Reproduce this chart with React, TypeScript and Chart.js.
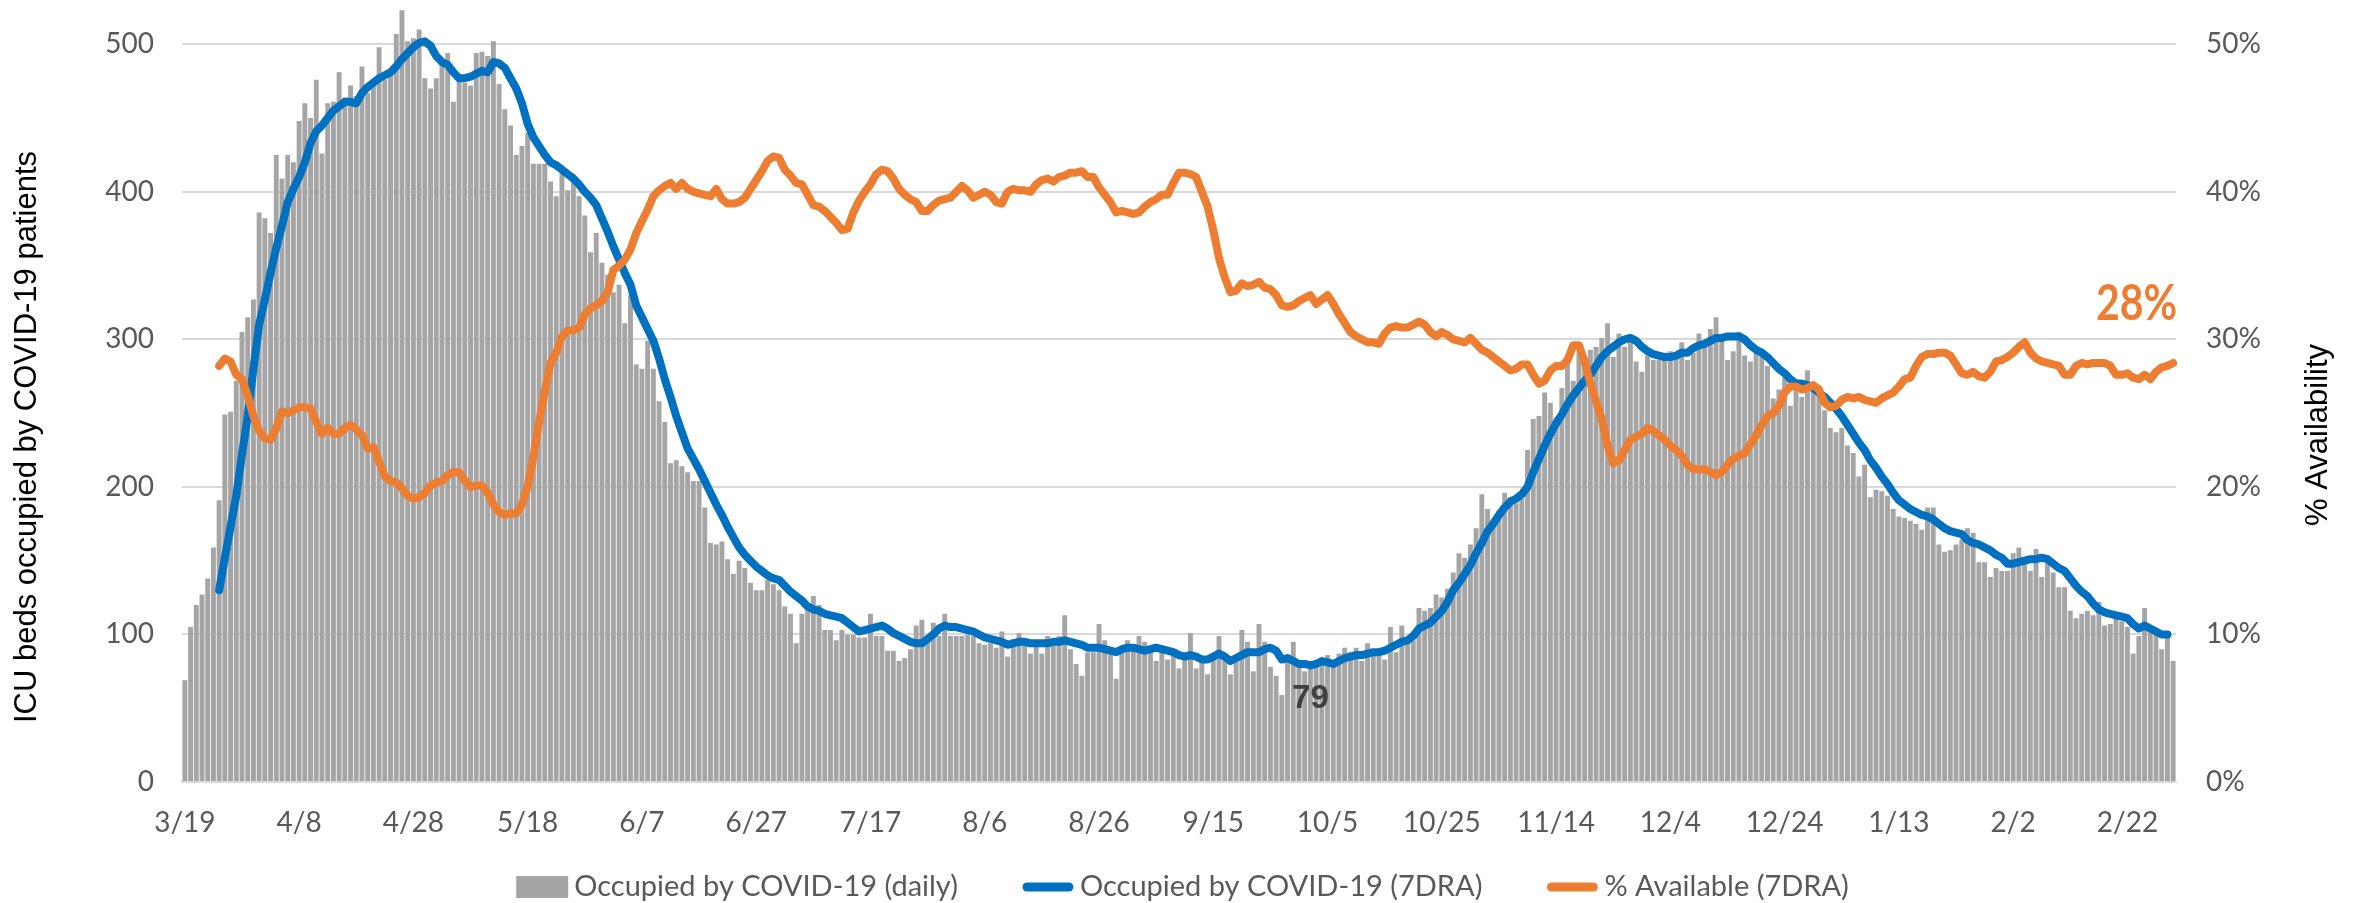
import React, { useEffect, useRef } from "react";
import { Chart, registerables } from "chart.js";

Chart.register(...registerables);

// ---------- DATA ----------
// month, first day, last day (3/19/2020 .. 3/2/2021)
const MONTH_SPANS: [number, number, number][] = [
  [3, 19, 31], [4, 1, 30], [5, 1, 31], [6, 1, 30], [7, 1, 31], [8, 1, 31],
  [9, 1, 30], [10, 1, 31], [11, 1, 30], [12, 1, 31], [1, 1, 31], [2, 1, 28], [3, 1, 2],
];
const CATEGORIES: string[] = MONTH_SPANS.flatMap(([m, a, b]) =>
  Array.from({ length: b - a + 1 }, (_, i) => `${m}/${a + i}`)
);

const TICK_LABELS = ["3/19", "4/8", "4/28", "5/18", "6/7", "6/27", "7/17", "8/6", "8/26", "9/15",
  "10/5", "10/25", "11/14", "12/4", "12/24", "1/13", "2/2", "2/22"];
const LEFT_TICKS = [0, 100, 200, 300, 400, 500];
const RIGHT_TICKS = [0, 10, 20, 30, 40, 50];

const DAILY: number[] = [
  69, 105, 120, 127, 138, 159, 191, 249, 251, 272,
  305, 315, 327, 386, 382, 372, 425, 409, 425, 420,
  448, 460, 450, 476, 426, 460, 461, 481, 464, 472,
  465, 485, 467, 474, 498, 476, 481, 507, 523, 502,
  504, 510, 477, 470, 477, 486, 494, 461, 476, 474,
  472, 494, 495, 492, 502, 473, 456, 445, 425, 431,
  440, 419, 419, 419, 407, 397, 414, 401, 407, 397,
  384, 359, 372, 352, 344, 332, 337, 311, 330, 283,
  280, 299, 280, 258, 244, 216, 218, 214, 210, 204,
  204, 186, 162, 161, 163, 151, 141, 150, 145, 135,
  130, 130, 137, 134, 130, 119, 114, 94, 114, 119,
  126, 120, 103, 103, 96, 103, 100, 100, 98, 98,
  114, 99, 99, 89, 89, 82, 84, 90, 106, 110,
  99, 108, 99, 114, 99, 99, 99, 100, 99, 94,
  93, 94, 91, 102, 85, 97, 101, 97, 87, 96,
  87, 99, 96, 99, 113, 90, 80, 72, 88, 88,
  107, 96, 90, 70, 92, 96, 92, 99, 95, 90,
  82, 88, 83, 90, 77, 87, 101, 77, 81, 73,
  87, 99, 87, 73, 83, 103, 95, 75, 107, 95,
  78, 72, 59, 85, 95, 82, 75, 79, 79, 82,
  86, 82, 87, 91, 88, 91, 82, 94, 88, 88,
  83, 105, 88, 106, 96, 96, 118, 116, 118, 127,
  125, 131, 142, 155, 152, 161, 172, 195, 185, 178,
  184, 196, 193, 189, 192, 225, 246, 248, 264, 257,
  247, 267, 286, 272, 291, 288, 293, 295, 301, 311,
  288, 304, 295, 299, 285, 278, 289, 286, 286, 291,
  292, 291, 298, 286, 291, 304, 298, 307, 315, 302,
  286, 292, 305, 289, 285, 292, 289, 282, 260, 266,
  274, 255, 266, 261, 279, 267, 262, 252, 240, 237,
  240, 228, 223, 207, 215, 193, 198, 197, 194, 185,
  180, 179, 177, 175, 171, 186, 186, 161, 156, 157,
  161, 164, 172, 169, 149, 149, 139, 145, 143, 143,
  155, 159, 152, 143, 158, 139, 150, 142, 132, 132,
  116, 111, 114, 116, 113, 122, 106, 107, 111, 109,
  105, 87, 99, 118, 102, 100, 90, 99, 82,
];

const AVG7: (number | null)[] = [
  null, null, null, null, null, null, 130, 152, 173, 194,
  222, 248, 280, 310, 327, 345, 362, 377, 393, 402,
  410, 420, 433, 441, 445, 450, 455, 458, 461, 461,
  460, 467, 471, 474, 477, 479, 481, 485, 490, 494,
  498, 501, 502, 499, 492, 488, 486, 481, 477, 477,
  478, 480, 482, 481, 488, 487, 484, 477, 470, 460,
  446, 437, 431, 425, 420, 418, 415, 412, 409, 405,
  400, 396, 391, 382, 373, 363, 354, 345, 337, 323,
  315, 307, 299, 287, 273, 261, 248, 237, 226, 219,
  212, 204, 196, 188, 181, 173, 166, 159, 154, 150,
  146, 143, 140, 138, 137, 133, 129, 126, 123, 119,
  117, 116, 114, 113, 112, 111, 108, 105, 102, 103,
  104, 105, 106, 104, 101, 99, 97, 95, 94, 94,
  97, 100, 104, 106, 105, 105, 104, 103, 102, 100,
  98, 97, 96, 95, 93, 94, 95, 95, 94, 94,
  94, 94, 95, 95, 96, 95, 94, 93, 91, 91,
  91, 90, 89, 88, 90, 91, 91, 90, 89, 90,
  91, 90, 89, 88, 86, 85, 86, 85, 83, 83,
  85, 87, 85, 82, 84, 86, 88, 88, 88, 90,
  91, 89, 83, 84, 82, 80, 80, 79, 80, 82,
  81, 80, 82, 84, 85, 86, 86, 87, 88, 88,
  89, 91, 93, 95, 96, 99, 104, 106, 108, 112,
  116, 122, 130, 135, 141, 147, 155, 162, 170, 175,
  181, 186, 190, 192, 195, 200, 210, 219, 228, 236,
  243, 249, 256, 262, 267, 272, 276, 282, 288, 292,
  295, 298, 300, 301, 299, 295, 292, 290, 289, 288,
  288, 289, 291, 291, 294, 296, 297, 299, 301, 301,
  302, 302, 302, 300, 296, 293, 291, 288, 284, 280,
  277, 273, 270, 270, 269, 267, 264, 261, 257, 253,
  248, 242, 236, 230, 225, 218, 213, 207, 202, 196,
  191, 188, 185, 183, 181, 180, 178, 175, 172, 170,
  169, 168, 164, 162, 161, 159, 157, 154, 152, 148,
  148, 149, 150, 151, 151, 152, 151, 148, 145, 143,
  138, 133, 129, 126, 121, 117, 115, 114, 113, 112,
  111, 107, 104, 106, 104, 102, 100, 100, null,
];

const AVAIL: (number | null)[] = [
  null, null, null, null, null, null, 28.2, 28.7, 28.5, 27.6,
  27.3, 26.2, 24.8, 23.8, 23.3, 23.2, 24.0, 25.1, 25.0, 25.2,
  25.4, 25.4, 25.3, 24.4, 23.6, 24.0, 23.6, 23.6, 24.0, 24.2,
  23.9, 23.5, 22.6, 22.7, 21.7, 20.7, 20.4, 20.3, 19.9, 19.4,
  19.2, 19.3, 19.6, 20.1, 20.3, 20.4, 20.8, 21.0, 21.0, 20.4,
  20.0, 20.1, 20.1, 19.6, 18.8, 18.3, 18.1, 18.2, 18.2, 18.8,
  20.0, 22.0, 24.4, 26.5, 28.4, 29.1, 30.2, 30.6, 30.6, 30.8,
  31.7, 32.1, 32.3, 32.6, 33.2, 34.7, 35.0, 35.4, 36.1, 37.2,
  38.0, 38.8, 39.7, 40.1, 40.4, 40.6, 40.2, 40.6, 40.2, 40.0,
  39.9, 39.8, 39.7, 40.2, 39.5, 39.2, 39.2, 39.3, 39.6, 40.2,
  40.8, 41.4, 42.1, 42.4, 42.3, 41.5, 41.1, 40.6, 40.5, 39.8,
  39.1, 39.0, 38.7, 38.3, 37.9, 37.4, 37.5, 38.6, 39.4, 40.0,
  40.5, 41.2, 41.5, 41.4, 40.9, 40.2, 39.8, 39.5, 39.3, 38.7,
  38.7, 39.1, 39.4, 39.5, 39.6, 40.0, 40.4, 40.1, 39.6, 39.8,
  40.0, 39.8, 39.3, 39.2, 40.0, 40.2, 40.1, 40.1, 40.0, 40.5,
  40.8, 40.9, 40.7, 41.0, 41.1, 41.3, 41.3, 41.4, 41.0, 41.0,
  40.3, 39.8, 39.3, 38.6, 38.7, 38.6, 38.5, 38.6, 39.0, 39.3,
  39.5, 39.8, 39.8, 40.6, 41.3, 41.3, 41.2, 41.0, 40.0, 39.0,
  37.4, 35.5, 34.2, 33.2, 33.3, 33.8, 33.6, 33.7, 33.9, 33.5,
  33.4, 33.0, 32.3, 32.2, 32.3, 32.6, 32.8, 33.0, 32.4, 32.7,
  33.0, 32.4, 31.7, 31.1, 30.5, 30.2, 30.0, 29.8, 29.8, 29.7,
  30.4, 30.8, 30.9, 30.8, 30.8, 31.0, 31.2, 31.0, 30.5, 30.2,
  30.5, 30.3, 30.0, 29.9, 29.8, 30.1, 29.7, 29.3, 29.1, 28.8,
  28.5, 28.2, 27.9, 28.0, 28.3, 28.3, 27.6, 27.0, 27.2, 27.9,
  28.2, 28.2, 28.6, 29.6, 29.6, 28.5, 27.0, 25.8, 24.6, 22.8,
  21.6, 21.8, 22.5, 23.2, 23.4, 23.6, 24.0, 23.8, 23.5, 23.2,
  22.8, 22.5, 22.1, 21.5, 21.2, 21.2, 21.2, 21.0, 20.8, 21.0,
  21.5, 21.9, 22.1, 22.3, 22.9, 23.5, 24.2, 24.8, 25.0, 25.5,
  26.4, 26.8, 26.8, 26.6, 26.7, 26.9, 26.6, 25.7, 25.4, 25.5,
  25.9, 26.1, 26.0, 26.1, 25.9, 25.8, 25.7, 26.0, 26.2, 26.4,
  26.8, 27.3, 27.4, 28.2, 28.8, 29.0, 29.0, 29.1, 29.1, 28.9,
  28.3, 27.7, 27.6, 27.8, 27.5, 27.4, 27.8, 28.5, 28.6, 28.8,
  29.1, 29.5, 29.8, 29.1, 28.7, 28.5, 28.4, 28.3, 28.2, 27.6,
  27.6, 28.2, 28.4, 28.3, 28.4, 28.4, 28.4, 28.2, 27.6, 27.6,
  27.7, 27.4, 27.3, 27.6, 27.3, 27.8, 28.1, 28.2, 28.4,
];

const SERIES_LABELS = ["Occupied by COVID-19 (daily)", "Occupied by COVID-19 (7DRA)", "% Available (7DRA)"];
const LEFT_TITLE = "ICU beds occupied by COVID-19 patients";
const RIGHT_TITLE = "% Availability";

// ---------- STYLE ----------
const W = 2353;
const H = 903;
const GRAY = "#A5A5A5";
const BLUE = "#0070C0";
const ORANGE = "#ED7D31";
const TEXT = "#595959";
const GRID = "#D9D9D9";
const UI_FONT = "Lato, 'Liberation Sans', sans-serif";
const ARIAL = "'Liberation Sans', Arial, sans-serif";

const overlayPlugin = {
  id: "overlay",
  afterDraw(chart: any) {
    const { ctx, scales } = chart;
    ctx.save();

    // axis titles
    ctx.fillStyle = "#000000";
    ctx.font = `31px ${ARIAL}`;
    ctx.textAlign = "center";
    ctx.textBaseline = "middle";
    ctx.save();
    ctx.translate(27, 437);
    ctx.rotate(-Math.PI / 2);
    ctx.fillText(LEFT_TITLE, 0, 0);
    ctx.restore();
    ctx.save();
    ctx.translate(2318, 435);
    ctx.rotate(-Math.PI / 2);
    ctx.fillText(RIGHT_TITLE, 0, 0);
    ctx.restore();

    // minimum annotation on 7DRA
    let minIdx = -1;
    AVG7.forEach((v, i) => {
      if (v !== null && i > 150 && (minIdx < 0 || v < (AVG7[minIdx] as number))) minIdx = i;
    });
    if (minIdx >= 0) {
      const v = AVG7[minIdx] as number;
      const px = scales.x.getPixelForValue(minIdx);
      const py = scales.y.getPixelForValue(v);
      ctx.fillStyle = "#404040";
      ctx.font = `bold 33px ${ARIAL}`;
      ctx.textAlign = "center";
      ctx.textBaseline = "middle";
      ctx.fillText(String(v), px, py + 33);
    }

    // last availability annotation
    let lastIdx = AVAIL.length - 1;
    while (lastIdx > 0 && AVAIL[lastIdx] === null) lastIdx--;
    const lv = AVAIL[lastIdx] as number;
    const lx = scales.x.getPixelForValue(lastIdx);
    const ly = scales.y1.getPixelForValue(lv);
    ctx.fillStyle = ORANGE;
    ctx.font = `bold 50px ${UI_FONT}`;
    ctx.textAlign = "right";
    ctx.textBaseline = "middle";
    ctx.save();
    ctx.translate(lx + 4, ly - 59);
    ctx.scale(0.82, 1);
    ctx.fillText(`${Math.round(lv)}%`, 0, 0);
    ctx.restore();

    // legend
    const ds = chart.data.datasets;
    ctx.font = `29px ${UI_FONT}`;
    ctx.textAlign = "left";
    ctx.textBaseline = "middle";
    const keyW = 52;
    const keyGap = 6;
    const spacing = 64;
    const widths = ds.map((d: any) => keyW + keyGap + ctx.measureText(d.label).width);
    const total = widths.reduce((a: number, b: number) => a + b, 0) + spacing * (ds.length - 1);
    let x = W / 2 - total / 2 + 6;
    const y = 887;
    ds.forEach((d: any, i: number) => {
      if (d.type === "bar") {
        ctx.fillStyle = d.backgroundColor;
        ctx.fillRect(x, y - 11, keyW, 22);
      } else {
        ctx.strokeStyle = d.borderColor;
        ctx.lineWidth = 9;
        ctx.lineCap = "round";
        ctx.beginPath();
        ctx.moveTo(x + 5, y);
        ctx.lineTo(x + keyW - 5, y);
        ctx.stroke();
      }
      ctx.fillStyle = TEXT;
      ctx.fillText(d.label, x + keyW + keyGap, y);
      x += widths[i] + spacing;
    });

    ctx.restore();
  },
};

export default function App() {
  const ref = useRef<HTMLCanvasElement | null>(null);

  useEffect(() => {
    if (!ref.current) return;
    const chart = new Chart(ref.current, {
      data: {
        labels: CATEGORIES,
        datasets: [
          {
            type: "bar",
            label: SERIES_LABELS[0],
            data: DAILY,
            backgroundColor: GRAY,
            barPercentage: 1,
            categoryPercentage: 0.86,
            yAxisID: "y",
            order: 3,
          },
          {
            type: "line",
            label: SERIES_LABELS[1],
            data: AVG7,
            borderColor: BLUE,
            backgroundColor: BLUE,
            borderWidth: 8,
            pointRadius: 0,
            tension: 0,
            borderCapStyle: "round",
            borderJoinStyle: "round",
            yAxisID: "y",
            order: 2,
          },
          {
            type: "line",
            label: SERIES_LABELS[2],
            data: AVAIL,
            borderColor: ORANGE,
            backgroundColor: ORANGE,
            borderWidth: 8,
            pointRadius: 0,
            tension: 0,
            borderCapStyle: "round",
            borderJoinStyle: "round",
            yAxisID: "y1",
            order: 1,
          },
        ] as any,
      },
      options: {
        animation: false,
        responsive: true,
        maintainAspectRatio: false,
        devicePixelRatio: 1,
        layout: { padding: { left: 30, right: 0, top: 0, bottom: 0 } },
        plugins: {
          legend: { display: false },
          tooltip: { enabled: false },
        },
        scales: {
          x: {
            type: "category",
            offset: true,
            grid: { display: false, drawTicks: false },
            border: { display: true, color: GRID, width: 2 },
            ticks: {
              autoSkip: false,
              maxRotation: 0,
              minRotation: 0,
              padding: 24,
              color: TEXT,
              font: { family: UI_FONT, size: 28 },
              callback: (_v: any, idx: number) =>
                TICK_LABELS.includes(CATEGORIES[idx]) ? CATEGORIES[idx] : null,
            },
            afterFit: (s: any) => {
              s.height = 121;
              s.paddingLeft = 0;
              s.paddingRight = 0;
            },
          },
          y: {
            type: "linear",
            position: "left",
            min: 0,
            max: 530,
            grid: { color: GRID, lineWidth: 2, drawTicks: false },
            border: { display: false },
            ticks: {
              padding: 28,
              color: TEXT,
              font: { family: UI_FONT, size: 28 },
            },
            afterBuildTicks: (s: any) => {
              s.ticks = LEFT_TICKS.map((v) => ({ value: v }));
            },
            afterFit: (s: any) => {
              s.width = 152;
              s.paddingTop = 0;
              s.paddingBottom = 0;
            },
          },
          y1: {
            type: "linear",
            position: "right",
            min: 0,
            max: 53,
            grid: { display: false, drawTicks: false },
            border: { display: false },
            ticks: {
              padding: 30,
              color: TEXT,
              font: { family: UI_FONT, size: 28 },
              callback: (v: any) => `${v}%`,
            },
            afterBuildTicks: (s: any) => {
              s.ticks = RIGHT_TICKS.map((v) => ({ value: v }));
            },
            afterFit: (s: any) => {
              s.width = 177;
              s.paddingTop = 0;
              s.paddingBottom = 0;
            },
          },
        },
      } as any,
      plugins: [overlayPlugin],
    });
    return () => chart.destroy();
  }, []);

  return (
    <div style={{ position: "absolute", left: 0, top: 0, width: W, height: H, background: "#fff" }}>
      <canvas ref={ref} />
    </div>
  );
}
